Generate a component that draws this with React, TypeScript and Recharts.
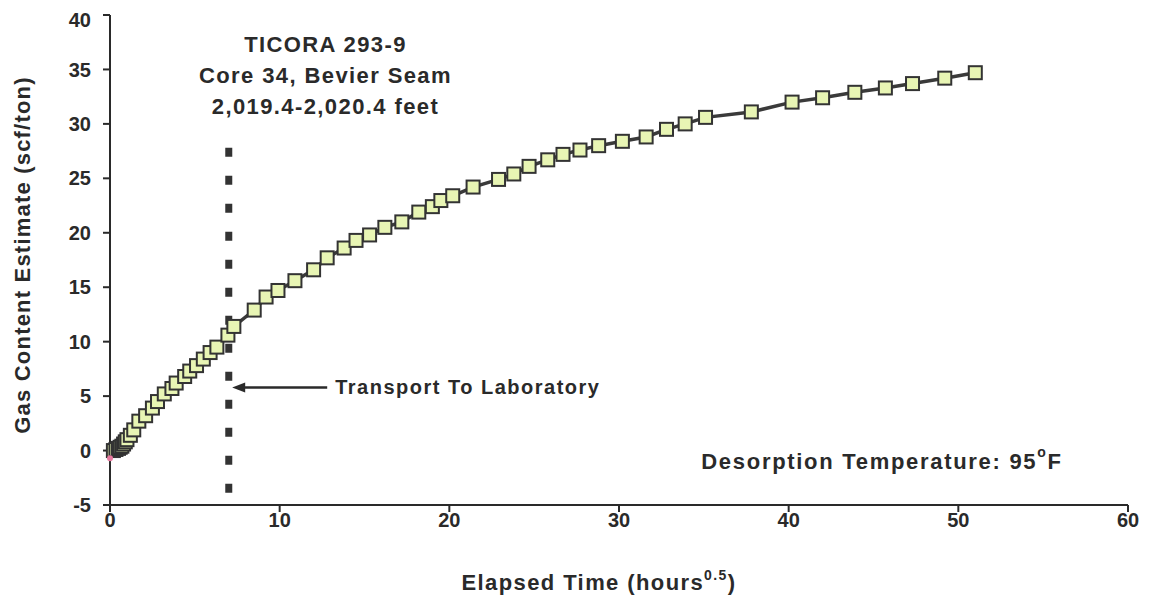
import React from "react";
import {
  LineChart,
  Line,
  XAxis,
  YAxis,
  ReferenceLine,
  ReferenceDot,
  Label,
} from "recharts";

// elapsed time (hours^0.5) and gas content (scf/ton)
const elapsedTime = [
  0.2, 0.35, 0.5, 0.6, 0.7, 0.8, 0.9, 1.0, 1.2, 1.4, 1.7, 2.1, 2.5, 2.8, 3.2,
  3.65, 3.9, 4.4, 4.7, 5.1, 5.5, 5.9, 6.3, 6.95, 7.3, 8.5, 9.2, 9.9, 10.9,
  12.0, 12.8, 13.8, 14.5, 15.3, 16.2, 17.2, 18.2, 19.0, 19.5, 20.2, 21.4,
  22.9, 23.8, 24.7, 25.8, 26.7, 27.7, 28.8, 30.2, 31.6, 32.8, 33.9, 35.1,
  37.8, 40.2, 42.0, 43.9, 45.7, 47.3, 49.2, 51.0,
];
const gasContent = [
  0.0, 0.1, 0.2, 0.3, 0.4, 0.6, 0.8, 1.0, 1.4, 1.9, 2.7, 3.2, 3.9, 4.5, 5.2,
  5.7, 6.2, 6.8, 7.3, 7.8, 8.4, 9.0, 9.5, 10.6, 11.4, 12.9, 14.1, 14.7, 15.6,
  16.6, 17.7, 18.6, 19.3, 19.8, 20.5, 21.0, 21.9, 22.4, 22.96, 23.4, 24.2,
  24.9, 25.4, 26.1, 26.7, 27.2, 27.6, 28.0, 28.4, 28.8, 29.5, 30.0, 30.6,
  31.1, 32.0, 32.4, 32.9, 33.3, 33.7, 34.2, 34.7,
];

const xTicks = [0, 10, 20, 30, 40, 50, 60];
const yTicks = [-5, 0, 5, 10, 15, 20, 25, 30, 35, 40];

const titleLines = ["TICORA 293-9", "Core 34, Bevier Seam", "2,019.4-2,020.4 feet"];
const titleAt = { x: 12.7, y: 34.4 };
const transportTime = 7;
const transportLabel = "Transport To Laboratory";
const arrowAt = { x: 7.2, y: 5.8, tail: 12.8 };
const tempAt = { x: 45.5, y: -1 };
const firstReading = { x: 0, y: -0.7 };

const data = elapsedTime.map((t, i) => ({ t, gas: gasContent[i] }));

const font = "'Liberation Sans', Arial, sans-serif";
const ink = "#2a2a2a";

const Square = (props: any) => {
  const { cx, cy } = props;
  if (cx == null || cy == null) return null;
  return (
    <rect
      x={cx - 6.5}
      y={cy - 6.5}
      width={13}
      height={13}
      fill="#e8f5b4"
      stroke="#333"
      strokeWidth={2}
    />
  );
};

const App: React.FC = () => {
  return (
    <div style={{ fontFamily: font }}>
      <LineChart
        width={1141}
        height={599}
        data={data}
        margin={{ top: 7, right: 21, bottom: 7, left: 32 }}
      >
        <XAxis
          dataKey="t"
          type="number"
          domain={[0, 60]}
          ticks={xTicks}
          stroke={ink}
          strokeWidth={2}
          tickSize={7}
          tickMargin={1}
          height={95}
          tick={{ fill: ink, fontSize: 20, fontWeight: 700, fontFamily: font }}
        >
          <Label
            position="insideBottom"
            content={(p: any) => {
              const vb = p.viewBox;
              return (
                <text
                  x={vb.x + vb.width / 2 - 20}
                  y={vb.y + vb.height - 10}
                  textAnchor="middle"
                  fill={ink}
                  fontSize={22}
                  fontWeight={700}
                  fontFamily={font}
                  letterSpacing={1.4}
                >
                  <tspan>Elapsed Time (hours</tspan>
                  <tspan dy={-10} fontSize={14}>0.5</tspan>
                  <tspan dy={10}>)</tspan>
                </text>
              );
            }}
          />
        </XAxis>
        <YAxis
          type="number"
          domain={[-5, 40]}
          ticks={yTicks}
          stroke={ink}
          strokeWidth={2}
          tickSize={7}
          tickMargin={12}
          width={70}
          tick={{ fill: ink, fontSize: 20, fontWeight: 700, fontFamily: font }}
        >
          <Label
            position="insideLeft"
            content={(p: any) => {
              const vb = p.viewBox;
              const cx = vb.x - 18;
              const cy = vb.y + vb.height / 2 - 5;
              return (
                <text
                  x={cx}
                  y={cy}
                  transform={`rotate(-90 ${cx} ${cy})`}
                  textAnchor="middle"
                  dominantBaseline="central"
                  fill={ink}
                  fontSize={22}
                  fontWeight={700}
                  fontFamily={font}
                  letterSpacing={1.2}
                >
                  Gas Content Estimate (scf/ton)
                </text>
              );
            }}
          />
        </YAxis>

        <ReferenceLine
          segment={[
            { x: transportTime, y: 27.8 },
            { x: transportTime, y: -4 },
          ]}
          stroke="#333"
          strokeWidth={7}
          strokeDasharray="9 19"
        />

        <ReferenceDot
          x={arrowAt.x}
          y={arrowAt.y}
          r={0}
          shape={(p: any) => {
            const { cx, cy } = p;
            if (cx == null) return null;
            const tailPx = cx + (arrowAt.tail - arrowAt.x) * 16.97;
            return (
              <g>
                <line x1={cx + 8} y1={cy} x2={tailPx} y2={cy} stroke={ink} strokeWidth={2.5} />
                <polygon
                  points={`${cx},${cy} ${cx + 13},${cy - 5} ${cx + 13},${cy + 5}`}
                  fill={ink}
                />
                <text
                  x={tailPx + 8}
                  y={cy}
                  dominantBaseline="central"
                  fill={ink}
                  fontSize={20}
                  fontWeight={700}
                  fontFamily={font}
                  letterSpacing={1.5}
                >
                  {transportLabel}
                </text>
              </g>
            );
          }}
        />

        <ReferenceDot
          x={titleAt.x}
          y={titleAt.y}
          r={0}
          shape={(p: any) => {
            const { cx, cy } = p;
            if (cx == null) return null;
            return (
              <text
                textAnchor="middle"
                fill={ink}
                fontSize={22}
                fontWeight={700}
                fontFamily={font}
                letterSpacing={1.4}
              >
                {titleLines.map((s, i) => (
                  <tspan key={s} x={cx} y={cy + (i - 1) * 31} dominantBaseline="central">
                    {s}
                  </tspan>
                ))}
              </text>
            );
          }}
        />

        <ReferenceDot
          x={tempAt.x}
          y={tempAt.y}
          r={0}
          shape={(p: any) => {
            const { cx, cy } = p;
            if (cx == null) return null;
            return (
              <text
                x={cx}
                y={cy}
                textAnchor="middle"
                dominantBaseline="central"
                fill={ink}
                fontSize={22}
                fontWeight={700}
                fontFamily={font}
                letterSpacing={1.7}
              >
                <tspan>Desorption Temperature: 95</tspan>
                <tspan dy={-9} fontSize={14}>o</tspan>
                <tspan dy={9}>F</tspan>
              </text>
            );
          }}
        />

        <Line
          type="linear"
          dataKey="gas"
          stroke="#3a3a3a"
          strokeWidth={3.5}
          dot={<Square />}
          activeDot={false}
          isAnimationActive={false}
        />

        <ReferenceDot
          x={firstReading.x}
          y={firstReading.y}
          r={3}
          fill="#e87aa0"
          stroke="none"
        />
      </LineChart>
    </div>
  );
};

export default App;
